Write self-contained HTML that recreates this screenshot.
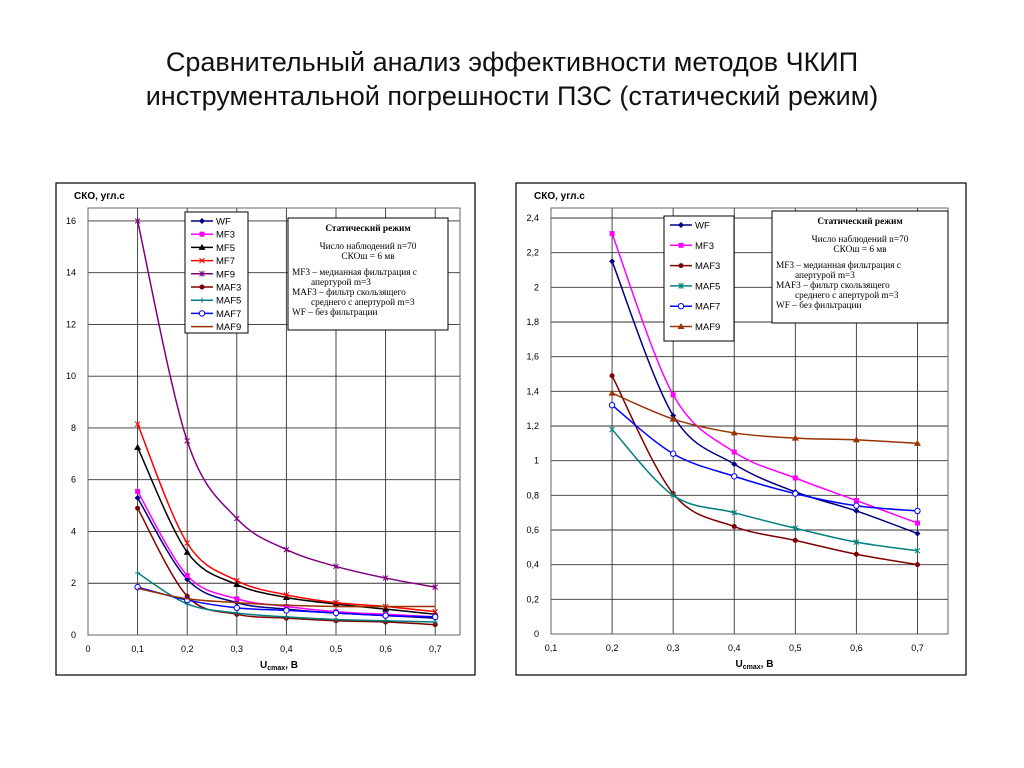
<!DOCTYPE html>
<html><head><meta charset="utf-8"><style>
body{margin:0;background:#fff;width:1024px;height:768px;overflow:hidden;font-family:"Liberation Sans",sans-serif}
.title{position:absolute;left:0;top:45px;width:1024px;text-align:center;font-size:27px;line-height:34px;color:#111}
svg{position:absolute;left:0;top:0}
</style></head><body>
<div class="title">Сравнительный анализ эффективности методов ЧКИП<br>инструментальной погрешности ПЗС (статический режим)</div>
<svg id="s" width="1024" height="768"></svg>
<script>
const leftX=[0.1,0.2,0.3,0.4,0.5,0.6,0.7];
const leftNames=["WF","MF3","MF5","MF7","MF9","MAF3","MAF5","MAF7","MAF9"];
const lWF=[5.3,2.15,1.25,1.0,0.85,0.75,0.65];
const lMF3=[5.55,2.3,1.4,1.1,0.9,0.8,0.7];
const lMF5=[7.25,3.2,1.95,1.45,1.2,1.0,0.8];
const lMF7=[8.15,3.55,2.1,1.55,1.25,1.1,0.9];
const lMF9=[16,7.5,4.5,3.3,2.65,2.2,1.85];
const lMAF3=[4.9,1.5,0.8,0.65,0.55,0.5,0.4];
const lMAF5=[2.4,1.2,0.85,0.7,0.6,0.55,0.5];
const lMAF7=[1.85,1.35,1.05,0.95,0.85,0.75,0.7];
const lMAF9=[1.8,1.4,1.25,1.15,1.1,1.1,1.1];
const leftXTicks=["0","0,1","0,2","0,3","0,4","0,5","0,6","0,7"];
const leftYTicks=["0","2","4","6","8","10","12","14","16"];
const rightX=[0.2,0.3,0.4,0.5,0.6,0.7];
const rWF=[2.15,1.26,0.98,0.82,0.71,0.58];
const rMF3=[2.31,1.38,1.05,0.9,0.77,0.64];
const rMAF3=[1.49,0.81,0.62,0.54,0.46,0.4];
const rMAF5=[1.18,0.8,0.7,0.61,0.53,0.48];
const rMAF7=[1.32,1.04,0.91,0.81,0.74,0.71];
const rMAF9=[1.39,1.24,1.16,1.13,1.12,1.1];
const rightXTicks=["0,1","0,2","0,3","0,4","0,5","0,6","0,7"];
const rightYTicks=["0","0,2","0,4","0,6","0,8","1","1,2","1,4","1,6","1,8","2","2,2","2,4"];

const S=document.getElementById('s');const NS="http://www.w3.org/2000/svg";
function el(t,a,txt){const e=document.createElementNS(NS,t);for(const k in a)e.setAttribute(k,a[k]);if(txt!==undefined)e.textContent=txt;S.appendChild(e);return e;}
function path(pts){let d="M"+pts[0][0]+","+pts[0][1];for(let i=0;i<pts.length-1;i++){const p0=pts[Math.max(i-1,0)],p1=pts[i],p2=pts[i+1],p3=pts[Math.min(i+2,pts.length-1)];const t=6;d+=" C"+(p1[0]+(p2[0]-p0[0])/t)+","+(p1[1]+(p2[1]-p0[1])/t)+" "+(p2[0]-(p3[0]-p1[0])/t)+","+(p2[1]-(p3[1]-p1[1])/t)+" "+p2[0]+","+p2[1];}return d;}
function marker(type,x,y,c){let m;
 if(type=="diamond")m=el('polygon',{points:`${x},${y-3} ${x+3},${y} ${x},${y+3} ${x-3},${y}`,fill:c});
 else if(type=="square")m=el('rect',{x:x-2.5,y:y-2.5,width:5,height:5,fill:c});
 else if(type=="tri")m=el('polygon',{points:`${x},${y-3.5} ${x+3.5},${y+2.5} ${x-3.5},${y+2.5}`,fill:c});
 else if(type=="x")m=el('path',{d:`M${x-2.5},${y-2.5}L${x+2.5},${y+2.5}M${x-2.5},${y+2.5}L${x+2.5},${y-2.5}`,stroke:c,'stroke-width':1});
 else if(type=="star")m=el('path',{d:`M${x-2.5},${y-2.5}L${x+2.5},${y+2.5}M${x-2.5},${y+2.5}L${x+2.5},${y-2.5}M${x},${y-3}L${x},${y+3}`,stroke:c,'stroke-width':1});
 else if(type=="dot")m=el('circle',{cx:x,cy:y,r:2.5,fill:c});
 else if(type=="circ")m=el('circle',{cx:x,cy:y,r:2.7,fill:'#fff',stroke:c,'stroke-width':1});
 else if(type=="plus")m=el('path',{d:`M${x-2.5},${y}L${x+2.5},${y}M${x},${y-2.5}L${x},${y+2.5}`,stroke:c,'stroke-width':1});
 if(m){}}
function chart(cfg){
 const {box,px0,px1,py0,py1,xmin,xmax,ymin,ymax,xt,yt,xvals,ystep}=cfg;
 const sx=v=>px0+(v-xmin)/(xmax-xmin)*(px1-px0);
 const sy=v=>py0-(v-ymin)/(ymax-ymin)*(py0-py1);
 const b=el('rect',{x:box[0],y:box[1],width:box[2],height:box[3],fill:'#fff',stroke:'#000','stroke-width':1.2});
 
 yt.forEach((t,i)=>{const v=ymin+i*ystep,y=sy(v);
  const g=el('line',{x1:px0,x2:px1,y1:y,y2:y,stroke:'#333','stroke-width':0.9});
  const l=el('text',{x:px0-12,y:y+3,'font-size':9,'text-anchor':'end'},t);});
 xt.forEach((t,i)=>{const v=xmin+i*0.1,x=sx(v);
  const g=el('line',{x1:x,x2:x,y1:py1,y2:py0,stroke:'#333','stroke-width':0.9});
  const l=el('text',{x:x,y:py0+17,'font-size':9,'text-anchor':'middle'},t);});
 const fr=el('rect',{x:px0,y:py1,width:px1-px0,height:py0-py1,fill:'none',stroke:'#666','stroke-width':1});
 cfg.series.forEach(s=>{const pts=s.v.map((v,i)=>[sx(xvals[i]),sy(v)]);
  const p=el('path',{d:path(pts),fill:'none',stroke:s.c,'stroke-width':1.5});
  pts.forEach(q=>marker(s.m,q[0],q[1],s.c));});
 const yl=el('text',{x:box[0]+18,y:box[1]+16,'font-size':10,'font-weight':'bold'},'СКО, угл.с');
 const xl=el('text',{x:(px0+px1)/2+5,y:py0+33,'font-size':10,'font-weight':'bold','text-anchor':'middle'});
 xl.innerHTML='U<tspan font-size="7" dy="2">cmax</tspan><tspan dy="-2">, В</tspan>';
 const L=cfg.leg;const lr=el('rect',{x:L[0],y:L[1],width:L[2],height:L[3],fill:'#fff',stroke:'#000'});
 cfg.series.forEach((s,i)=>{const y=L[1]+9+i*L[4];
  const ln=el('line',{x1:L[0]+6,x2:L[0]+28,y1:y,y2:y,stroke:s.c,'stroke-width':1.5});
  marker(s.m,L[0]+17,y,s.c);
  const t=el('text',{x:L[0]+31,y:y+3.5,'font-size':9.5},s.n);});
 const I=cfg.info;const ir=el('rect',{x:I[0],y:I[1],width:I[2],height:I[3],fill:'#fff',stroke:'#000'});
 const lines=[[I[2]/2,13,'Статический режим','middle',1],[I[2]/2,31,'Число наблюдений n=70','middle'],[I[2]/2,41,'СКОш = 6 мв','middle'],[4,57,'MF3    –  медианная фильтрация с','start'],[23,67,'апертурой m=3','start'],[4,77,'MAF3  –  фильтр скользящего','start'],[23,87,'среднего с апертурой m=3','start'],[4,97,'WF        –  без фильтрации','start']];
 lines.forEach(q=>{const t=el('text',{x:I[0]+q[0],y:I[1]+q[1],'font-size':9.3,'font-family':'Liberation Serif,serif','text-anchor':q[3],'font-weight':q[4]?'bold':'normal'},q[2]);});
}
chart({name:'left-chart',box:[56,183,419,492],px0:88,px1:460,py0:635,py1:208,xmin:0,xmax:0.75,ymin:0,ymax:16.5,ystep:2,xt:leftXTicks,yt:leftYTicks,xvals:leftX,
 leg:[185,212,63,121,13.2],info:[288,218,160,112],
 series:[{n:"WF",v:lWF,c:"#000080",m:"diamond"},{n:"MF3",v:lMF3,c:"#ff00ff",m:"square"},{n:"MF5",v:lMF5,c:"#000",m:"tri"},{n:"MF7",v:lMF7,c:"#ff0000",m:"x"},{n:"MF9",v:lMF9,c:"#800080",m:"star"},{n:"MAF3",v:lMAF3,c:"#800000",m:"dot"},{n:"MAF5",v:lMAF5,c:"#008080",m:"plus"},{n:"MAF7",v:lMAF7,c:"#0000ff",m:"circ"},{n:"MAF9",v:lMAF9,c:"#993300",m:"none"}]});
chart({name:'right-chart',box:[516,183,450,492],px0:551,px1:948,py0:634,py1:208,xmin:0.1,xmax:0.75,ymin:0,ymax:2.4*426/416,ystep:0.2,xt:rightXTicks,yt:rightYTicks,xvals:rightX,
 leg:[664,216,70,125,20.3],info:[772,211,176,112],
 series:[{n:"WF",v:rWF,c:"#000080",m:"diamond"},{n:"MF3",v:rMF3,c:"#ff00ff",m:"square"},{n:"MAF3",v:rMAF3,c:"#800000",m:"dot"},{n:"MAF5",v:rMAF5,c:"#008080",m:"star"},{n:"MAF7",v:rMAF7,c:"#0000ff",m:"circ"},{n:"MAF9",v:rMAF9,c:"#993300",m:"tri"}]});
</script>
</body></html>
